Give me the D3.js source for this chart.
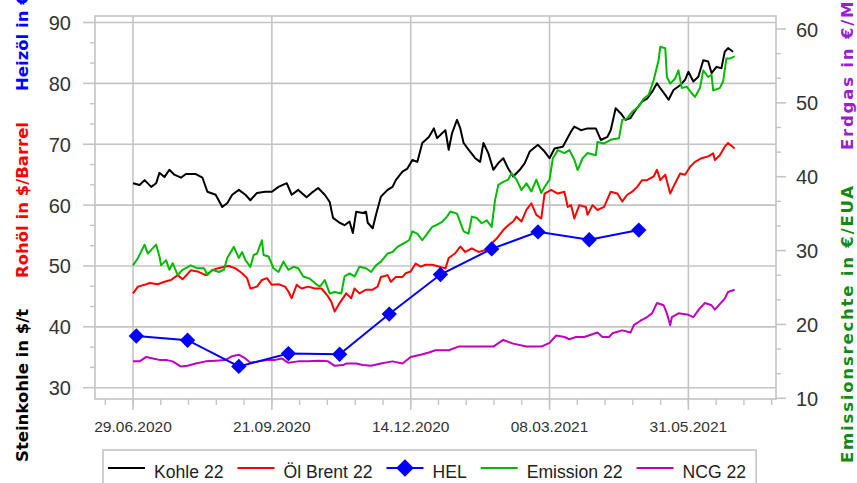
<!DOCTYPE html>
<html>
<head>
<meta charset="utf-8">
<script src="https://cdn.jsdelivr.net/npm/d3@7"></script>
<style>
  html, body { margin: 0; padding: 0; background: #fff; }
  svg { display: block; }
</style>
</head>
<body>
<svg id="chart" width="857" height="483"></svg>
<script>
// ---------- DATA ----------
const startDate = "2020-06-29";           // day 0 of the daily series
const xTickLabels = ["29.06.2020", "21.09.2020", "14.12.2020", "08.03.2021", "31.05.2021"];
const leftTicks = [30, 40, 50, 60, 70, 80, 90];
const rightTicks = [10, 20, 30, 40, 50, 60];
const seriesNames = ["Kohle 22", "Öl Brent 22", "HEL", "Emission 22", "NCG 22"];

// Kohle 22 (Steinkohle, $/t) – days since startDate
const kohleDays = [0,4,7,11,14,16,19,22,25,29,32,38,42,45,50,54,57,60,64,68,71,75,80,84,88,93,96,100,105,108,112,116,119,121,125,128,131,133,135,139,141,142,145,147,150,154,157,159,163,166,169,172,175,179,182,184,187,189,191,193,196,198,200,203,207,210,212,215,218,221,224,227,230,234,237,240,245,249,252,255,260,265,267,271,275,280,283,287,289,292,295,298,301,304,308,311,314,317,319,322,324,327,331,334,336,339,342,345,348,350,353,356,358,360,363];
const kohleValues = [63.6,63.3,64.1,63.0,63.6,65.3,64.6,65.8,65.0,64.5,65.1,65.1,64.5,62.2,61.7,59.7,60.3,61.7,62.5,61.7,60.8,62.0,62.2,62.2,63.0,63.6,61.7,62.5,61.3,62.0,62.8,61.7,60.5,57.9,57.1,56.7,57.3,55.4,58.9,58.7,58.9,57.1,56.2,58.4,61.4,62.5,63.0,64.1,65.5,66.0,67.4,67.1,70.2,71.2,72.6,71.0,71.8,72.3,69.1,71.8,74.0,72.6,70.2,69.1,67.7,67.1,70.2,68.5,65.8,66.9,67.7,66.0,64.7,65.8,66.9,68.8,69.9,68.8,67.7,69.3,69.6,72.1,72.9,72.3,72.6,72.6,70.7,71.2,72.3,75.9,75.1,74.0,74.3,75.6,77.0,77.5,78.6,80.0,79.2,78.1,77.3,78.9,79.7,80.6,81.9,80.3,81.1,83.8,83.6,81.7,82.7,82.5,85.2,85.8,85.2];

// Öl Brent 22 ($/Barrel)
const brentDays = [0,3,7,10,15,19,23,27,30,35,39,44,48,51,56,58,62,66,69,71,75,78,81,84,88,92,94,96,99,102,106,110,114,118,120,122,125,129,132,134,137,141,145,148,150,154,156,159,163,165,168,171,174,177,181,185,189,191,195,198,201,205,209,213,217,220,224,227,230,232,235,238,241,244,247,249,253,257,261,263,265,267,270,274,275,278,281,285,289,293,296,299,302,305,308,311,315,317,319,322,325,328,331,334,337,340,344,348,351,352,355,358,360,364];
const brentValues = [45.5,46.6,46.9,47.2,47.0,47.4,47.7,48.5,47.8,49.3,49.1,48.5,49.3,49.6,49.9,50.0,49.6,48.8,48.0,46.3,46.6,47.7,48.0,46.9,47.0,46.6,45.8,44.7,46.9,46.3,46.6,46.3,46.3,45.0,44.1,42.5,43.9,45.5,44.7,46.3,45.5,46.1,46.1,46.6,48.2,48.5,47.4,48.2,48.2,48.8,49.1,50.4,49.9,50.2,50.2,49.9,49.6,51.3,52.1,53.2,52.3,52.9,52.3,52.6,53.7,54.5,55.9,56.7,57.3,58.1,57.3,59.2,60.3,58.4,57.8,61.9,62.5,61.9,62.2,59.7,60.0,57.8,60.0,59.7,58.4,60.0,59.2,59.7,62.2,61.9,60.6,61.7,62.2,63.0,64.1,64.1,64.7,65.8,64.1,65.0,61.9,63.6,65.2,65.0,66.3,67.1,67.7,68.0,68.5,67.4,68.2,69.6,70.2,69.3];

// HEL (Heizöl) – monthly points
const helDates = ["2020-07-01","2020-08-01","2020-09-01","2020-10-01","2020-11-01","2020-12-01","2021-01-01","2021-02-01","2021-03-01","2021-04-01","2021-05-01"];
const helValues = [38.5,37.8,33.5,35.6,35.5,42.1,48.6,52.8,55.6,54.3,55.9];

// Emission 22 (€/EUA) – right axis
const emissionDays = [0,3,7,9,11,14,16,17,20,22,24,27,30,35,39,43,45,48,52,55,57,61,64,66,68,71,73,75,78,79,82,85,88,91,94,97,100,103,107,110,113,116,119,122,126,128,131,134,137,141,144,147,150,154,157,160,164,167,169,172,175,178,181,184,187,190,192,196,200,203,205,208,211,214,217,219,221,224,227,229,232,235,238,241,244,247,249,252,254,257,261,264,267,269,272,275,280,281,285,289,294,296,299,302,306,309,312,315,318,319,322,323,325,328,330,332,335,338,340,343,345,348,350,351,355,357,359,361,364];
const emissionValues = [28.0,29.0,30.8,29.6,30.1,30.8,29.2,28.0,28.7,27.4,28.3,26.7,27.4,28.0,27.6,27.6,26.7,27.4,27.1,27.4,29.0,30.5,29.0,29.8,28.7,27.8,29.4,29.6,31.4,29.4,29.2,27.6,27.1,28.5,27.4,27.8,27.6,26.5,26.2,25.6,25.1,26.0,24.2,24.4,24.2,26.5,26.9,26.5,27.8,27.6,27.1,28.0,28.5,29.6,29.8,30.5,31.0,31.4,32.6,32.3,31.4,32.3,33.2,33.5,33.9,34.6,35.3,35.0,32.6,32.3,34.6,34.4,33.7,34.1,33.2,36.8,38.9,39.3,39.6,40.5,39.6,38.2,39.1,38.0,39.6,37.8,38.6,39.6,42.5,43.6,43.2,43.6,42.3,40.9,42.5,43.2,42.9,44.7,44.5,45.0,45.2,47.7,47.9,48.8,49.5,50.6,51.1,53.1,55.8,57.6,57.4,53.5,52.6,53.3,54.4,52.0,52.2,51.3,50.8,52.0,54.4,53.5,53.8,51.7,52.0,52.9,56.0,56.0,56.3];

// NCG 22 (Erdgas, €/MWh) – right axis
const ncgDays = [0,4,8,12,16,20,24,29,33,38,44,50,56,60,64,68,71,76,81,86,90,94,100,106,112,118,122,127,129,135,139,144,150,157,163,168,174,179,183,191,197,205,212,218,224,230,238,247,252,256,261,264,268,273,277,281,284,288,290,296,301,303,307,311,314,317,321,323,325,326,330,336,339,343,346,350,352,358,360,364];
const ncgValues = [15.0,15.0,15.6,15.4,15.2,15.2,15.0,14.3,14.4,14.7,15.0,15.1,15.2,15.7,15.9,15.4,14.8,15.0,15.2,15.2,15.4,14.8,15.0,15.0,15.1,15.0,14.4,14.5,14.7,14.7,14.5,14.4,14.7,15.0,14.7,15.6,15.9,16.2,16.5,16.5,17.0,17.0,17.0,17.0,17.9,17.4,17.0,17.0,17.5,18.5,18.3,18.0,18.3,18.3,18.6,18.9,18.3,18.3,18.8,19.2,18.9,19.9,20.5,21.0,21.5,22.9,22.6,21.5,19.9,21.0,21.5,21.3,21.0,22.2,22.9,22.6,22.0,23.5,24.4,24.7];

// ---------- CHART ----------
const parseISO = d3.utcParse("%Y-%m-%d");
const parseDE = d3.utcParse("%d.%m.%Y");
const t0 = parseISO(startDate);
const dayToDate = d => d3.utcDay.offset(t0, d);

const svg = d3.select("#chart");
const W = 857, H = 483;
const plot = { left: 95, right: 776, top: 16, bottom: 399 };

const x = d3.scaleUtc()
  .domain([dayToDate(-23), dayToDate(389)])
  .range([plot.left, plot.right]);
const yL = d3.scaleLinear().domain([30, 90]).range([387.7, 22.5]);
const yR = d3.scaleLinear().domain([10, 60]).range([398.3, 29]);

const gridColor = "#c4c4c4";
const tickTextColor = "#333";
const tickFont = "Liberation Sans, Arial, sans-serif";

svg.append("rect").attr("width", W).attr("height", H).attr("fill", "#fff");

// horizontal gridlines (left axis)
svg.append("g").selectAll("line").data(leftTicks).join("line")
  .attr("x1", plot.left).attr("x2", plot.right)
  .attr("y1", d => yL(d)).attr("y2", d => yL(d))
  .attr("stroke", gridColor).attr("stroke-width", 1.6);

// vertical gridlines (date ticks), extended below the frame as major ticks
const majorDates = xTickLabels.map(parseDE);
svg.append("g").selectAll("line").data(majorDates).join("line")
  .attr("x1", d => x(d)).attr("x2", d => x(d))
  .attr("y1", plot.top).attr("y2", plot.bottom + 11)
  .attr("stroke", gridColor).attr("stroke-width", 1.6);

// frame
svg.append("rect")
  .attr("x", plot.left).attr("y", plot.top)
  .attr("width", plot.right - plot.left).attr("height", plot.bottom - plot.top)
  .attr("fill", "none").attr("stroke", gridColor).attr("stroke-width", 1.6);

// x minor ticks (5 intervals between labelled dates)
const step = 84 / 5;
const minorX = d3.range(-1, 24).map(i => d3.utcHour.offset(t0, Math.round(i * step * 24)))
  .filter(d => x(d) > plot.left + 2 && x(d) < plot.right - 2);
svg.append("g").selectAll("line").data(minorX).join("line")
  .attr("x1", d => x(d)).attr("x2", d => x(d))
  .attr("y1", plot.bottom).attr("y2", plot.bottom + 6)
  .attr("stroke", gridColor).attr("stroke-width", 1.4);

// x tick labels
svg.append("g").selectAll("text").data(xTickLabels).join("text")
  .attr("x", d => x(parseDE(d))).attr("y", 432)
  .attr("text-anchor", "middle")
  .attr("font-family", tickFont).attr("font-size", 15.5)
  .attr("fill", tickTextColor).text(d => d);

// left axis ticks
svg.append("g").selectAll("line").data(leftTicks).join("line")
  .attr("x1", plot.left - 12).attr("x2", plot.left)
  .attr("y1", d => yL(d)).attr("y2", d => yL(d))
  .attr("stroke", gridColor).attr("stroke-width", 1.6);
const leftMinor = d3.range(30, 90, 10 / 3).filter((d, i) => i % 3 !== 0);
svg.append("g").selectAll("line").data(leftMinor).join("line")
  .attr("x1", plot.left - 5).attr("x2", plot.left)
  .attr("y1", d => yL(d)).attr("y2", d => yL(d))
  .attr("stroke", gridColor).attr("stroke-width", 1.4);
svg.append("g").selectAll("text").data(leftTicks).join("text")
  .attr("x", 71).attr("y", d => yL(d) + 7.5)
  .attr("text-anchor", "end")
  .attr("font-family", tickFont).attr("font-size", 20)
  .attr("fill", tickTextColor).text(d => d);

// right axis ticks
svg.append("g").selectAll("line").data(rightTicks).join("line")
  .attr("x1", plot.right).attr("x2", plot.right + 10)
  .attr("y1", d => yR(d)).attr("y2", d => yR(d))
  .attr("stroke", gridColor).attr("stroke-width", 1.6);
const rightMinor = d3.range(10, 60, 10 / 3).filter((d, i) => i % 3 !== 0);
svg.append("g").selectAll("line").data(rightMinor).join("line")
  .attr("x1", plot.right).attr("x2", plot.right + 5)
  .attr("y1", d => yR(d)).attr("y2", d => yR(d))
  .attr("stroke", gridColor).attr("stroke-width", 1.4);
svg.append("g").selectAll("text").data(rightTicks).join("text")
  .attr("x", 796).attr("y", d => yR(d) + 7.5)
  .attr("text-anchor", "start")
  .attr("font-family", tickFont).attr("font-size", 20)
  .attr("fill", tickTextColor).text(d => d);

// axis titles (rotated) – the top ones run past the top edge, as in the source picture
const titleFont = "DejaVu Sans, Verdana, sans-serif";
function vTitle(px, py, txt, color, ls) {
  svg.append("text")
    .attr("transform", `translate(${px},${py}) rotate(-90)`)
    .attr("font-family", titleFont).attr("font-weight", "bold")
    .attr("font-size", 16.5).attr("letter-spacing", ls)
    .attr("fill", color).text(txt);
}
vTitle(28, 462, "Steinkohle in $/t", "#000", 0);
vTitle(28, 278, "Rohöl in $/Barrel", "#ff0000", 0);
vTitle(28, 91, "Heizöl in €/100 l", "#0000ff", 0);
vTitle(853, 463, "Emissionsrechte in €/EUA", "#118a11", 1.8);
vTitle(853, 150, "Erdgas in €/MWh", "#9a1ed2", 1.8);

// ---------- SERIES ----------
svg.append("clipPath").attr("id", "clip").append("rect")
  .attr("x", plot.left).attr("y", plot.top)
  .attr("width", plot.right - plot.left).attr("height", plot.bottom - plot.top);
const g = svg.append("g").attr("clip-path", "url(#clip)");

const colors = { kohle: "#000000", brent: "#ff0000", hel: "#0000ff", emission: "#00bb00", ncg: "#c000c0" };

function drawLine(days, values, yScale, color) {
  const pts = d3.zip(days, values).map(([d, v]) => ({ t: dayToDate(d), v }));
  g.append("path").datum(pts)
    .attr("fill", "none").attr("stroke", color).attr("stroke-width", 2)
    .attr("stroke-linejoin", "round")
    .attr("d", d3.line().x(p => x(p.t)).y(p => yScale(p.v)));
}
drawLine(kohleDays, kohleValues, yL, colors.kohle);
drawLine(brentDays, brentValues, yL, colors.brent);
drawLine(emissionDays, emissionValues, yR, colors.emission);
drawLine(ncgDays, ncgValues, yR, colors.ncg);

// HEL with diamond markers
const helPts = d3.zip(helDates, helValues).map(([d, v]) => ({ t: parseISO(d), v }));
g.append("path").datum(helPts)
  .attr("fill", "none").attr("stroke", colors.hel).attr("stroke-width", 2)
  .attr("d", d3.line().x(p => x(p.t)).y(p => yL(p.v)));
const diamond = d3.symbol().type(d3.symbolDiamond2).size(150);
g.append("g").selectAll("path").data(helPts).join("path")
  .attr("transform", p => `translate(${x(p.t)},${yL(p.v)})`)
  .attr("d", diamond).attr("fill", colors.hel);

// ---------- LEGEND ----------
const legendColors = [colors.kohle, colors.brent, colors.hel, colors.emission, colors.ncg];
const lg = svg.append("g");
const legY = 468;
let cx = 108, lastEnd = 0;
seriesNames.forEach((name, i) => {
  lg.append("line").attr("x1", cx).attr("x2", cx + 37)
    .attr("y1", legY).attr("y2", legY)
    .attr("stroke", legendColors[i]).attr("stroke-width", 2);
  if (name === "HEL") {
    lg.append("path").attr("transform", `translate(${cx + 18.5},${legY})`)
      .attr("d", d3.symbol().type(d3.symbolDiamond2).size(200)).attr("fill", colors.hel);
  }
  const t = lg.append("text").attr("x", cx + 46).attr("y", legY + 9.5)
    .attr("font-family", tickFont).attr("font-size", 17.6)
    .attr("fill", "#222").text(name);
  lastEnd = cx + 46 + t.node().getComputedTextLength();
  cx = lastEnd + 14;
});
lg.insert("rect", ":first-child")
  .attr("x", 103).attr("y", 450).attr("width", lastEnd + 10 - 103).attr("height", 50)
  .attr("fill", "#fff").attr("stroke", gridColor).attr("stroke-width", 1.6);
</script>
</body>
</html>
